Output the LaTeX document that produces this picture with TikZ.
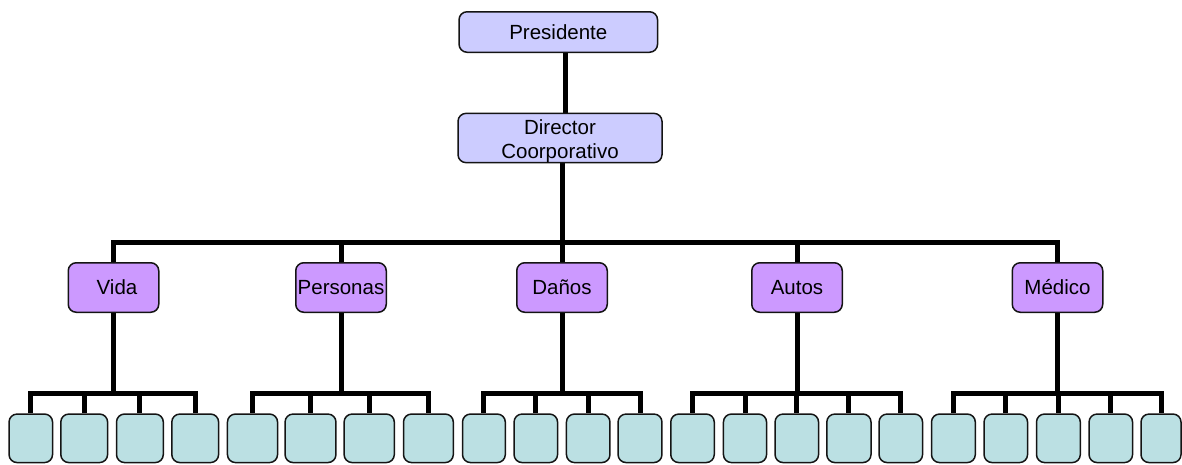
\documentclass[tikz,border=0pt]{standalone}
\usepackage{fontspec}
\setmainfont{Liberation Sans}
\usetikzlibrary{backgrounds}
\definecolor{topfill}{RGB}{204,204,255}
\definecolor{midfill}{RGB}{204,153,255}
\definecolor{leaffill}{RGB}{187,224,227}
\definecolor{edge}{RGB}{20,20,20}
\begin{document}
\begin{tikzpicture}[x=1pt,y=-1pt,
  box/.style={draw=edge, line width=1.5pt, rounded corners=8pt, inner sep=0pt,
    font=\fontsize{20.5}{24}\selectfont, align=center},
  head/.style={box, fill=topfill},
  unit/.style={box, fill=midfill, minimum width=90.5pt, minimum height=49.5pt},
  leaf/.style={box, fill=leaffill, minimum height=48.5pt},
  conn/.style={line width=5pt, line join=miter, line cap=butt}]
\useasboundingbox (0,0) rectangle (1182,464);

% top of the hierarchy
\node[head, minimum width=198.5pt, minimum height=40.5pt] (pres) at (558.3,32) {Presidente};
\node[head, minimum width=204pt, minimum height=48.5pt] (dir) at (560,138)
  {\rule{0pt}{21pt}Director\\Coorporativo};

% business units
\node[unit] (vida)   at (113.5,287.5) {\hspace*{7pt}Vida};
\node[unit] (pers)   at (341,287.5)   {Personas};
\node[unit] (danos)  at (562,287.5)   {Daños};
\node[unit] (autos)  at (797,287.5)   {Autos};
\node[unit] (medico) at (1057.5,287.5){Médico};

% empty positions under each unit
\foreach \n/\x/\w in {vida1/30.8/43.5, vida2/84.2/46.8, vida3/139.9/46.8, vida4/195.2/46.8,
    pers1/252.5/50.1, pers2/310.5/50.9, pers3/369.2/50.2, pers4/428.4/49.8,
    danos1/483.9/42.8, danos2/535.8/43.5, danos3/588.2/43.5, danos4/640/43.9,
    autos1/692.5/43.5, autos2/745/43.1, autos3/796.8/43.5, autos4/848.9/44.2, autos5/900.8/43.5,
    medico1/953.4/43.8, medico2/1005.8/43.5, medico3/1058.4/43.8, medico4/1110.8/43.5, medico5/1161/40}
  \node[leaf, minimum width=\w pt] (\n) at (\x,438.3) {};

\coordinate (midbar) at (0,242);
\coordinate (lowbar) at (0,393);

\begin{scope}[on background layer]
  \coordinate (toplink) at ([xshift=7pt]pres.south);
  \draw[conn] (toplink) -- (toplink |- dir.north);
  \coordinate (trunk) at ([xshift=2.5pt]dir.south);
  \foreach \m in {vida,pers,danos,autos,medico}
    \draw[conn] (trunk) -- (trunk |- midbar) -| (\m.north);
  \foreach \m/\k in {vida/4, pers/4, danos/4, autos/5, medico/5}
    \foreach \c in {1,...,\k}
      \draw[conn] (\m.south) -- (\m.south |- lowbar) -| (\m\c.north);
\end{scope}
\end{tikzpicture}
\end{document}
